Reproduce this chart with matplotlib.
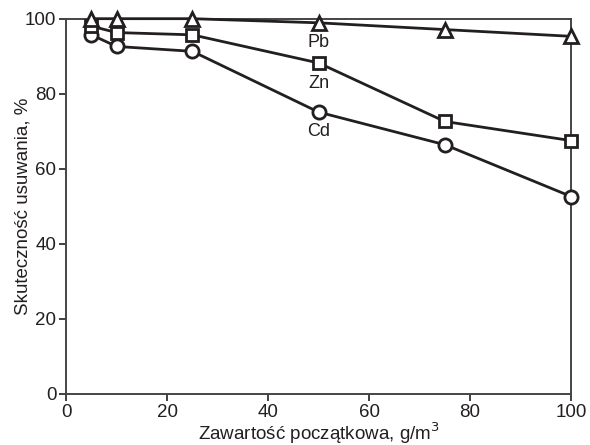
import matplotlib
matplotlib.use("Agg")
import matplotlib.pyplot as plt

plt.rcParams['font.family'] = ['Liberation Sans', 'DejaVu Sans']

x = [5, 10, 25, 50, 75, 100]
pb = [100, 100, 100, 98.9, 97.1, 95.3]
zn = [98.0, 96.3, 95.7, 88.2, 72.6, 67.5]
cd = [95.7, 92.6, 91.3, 75.1, 66.4, 52.6]

xticks = [0, 20, 40, 60, 80, 100]
yticks = [0, 20, 40, 60, 80, 100]

fig = plt.figure(figsize=(5.9, 4.45), dpi=100)
ax = fig.add_axes([0.112, 0.115, 0.856, 0.843])

col = '#231f20'
common = dict(color=col, lw=2.0, markerfacecolor='white',
              markeredgewidth=2.0, markeredgecolor=col, clip_on=False)
ax.plot(x, cd, marker='o', zorder=3, markersize=9.5, **common)
ax.plot(x, zn, marker='s', zorder=4, markersize=8.5, **common)
ax.plot(x, pb, marker='^', zorder=5, markersize=10, **common)

ax.text(50, 93.6, 'Pb', ha='center', va='center', fontsize=13, color=col)
ax.text(50, 82.7, 'Zn', ha='center', va='center', fontsize=13, color=col)
ax.text(50, 70.0, 'Cd', ha='center', va='center', fontsize=13, color=col)

ax.set_xlim(0, 100)
ax.set_ylim(0, 100)
ax.set_xticks(xticks)
ax.set_yticks(yticks)
ax.tick_params(direction='out', length=5, width=1.2, colors=col, labelsize=13.5, pad=2)
for s in ax.spines.values():
    s.set_linewidth(1.4)
    s.set_color('#444444')

ax.set_xlabel('Zawartość początkowa, g/m$^3$', fontsize=13.5, color=col, labelpad=0)
ax.set_ylabel('Skuteczność usuwania, %', fontsize=13.5, color=col)
ax.yaxis.set_label_coords(-0.069, 0.5)

fig.savefig('out.png', dpi=100)
